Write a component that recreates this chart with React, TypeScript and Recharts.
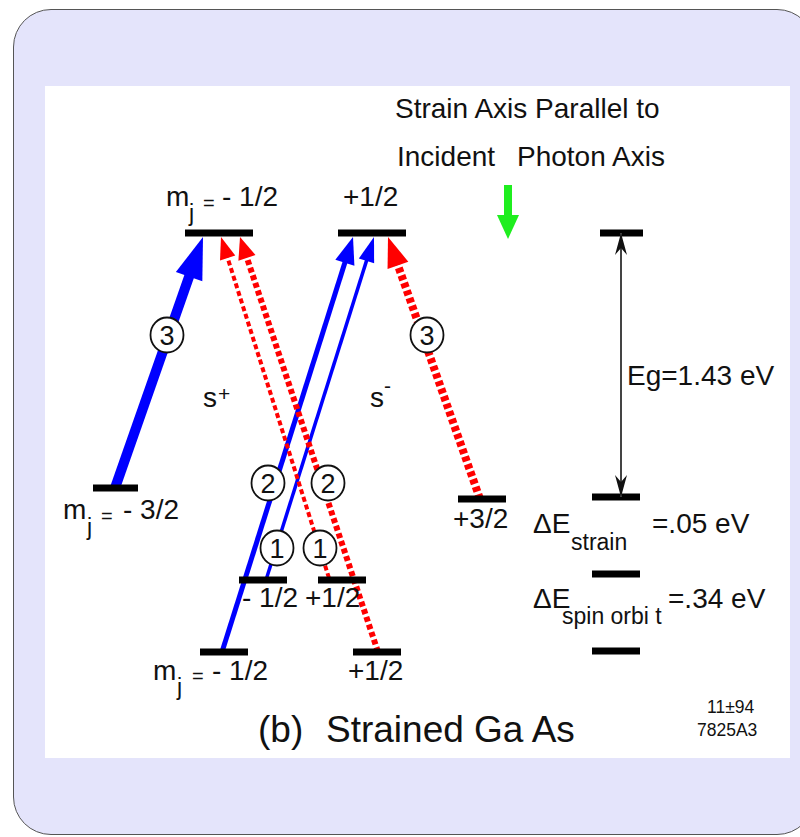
import { ComposedChart, XAxis, YAxis, Scatter, ReferenceLine, ReferenceDot } from 'recharts';

const W = 800;
const H = 837;
const FONT = '"Liberation Sans", Arial, Helvetica, sans-serif';
const INK = '#111';

// energy levels (diagram units, y grows downward)
const levelNames = ['CB -1/2', 'CB +1/2', 'CB ref', 'HH -3/2', 'HH +3/2', 'HH ref', 'LH -1/2', 'LH +1/2', 'LH ref', 'SO -1/2', 'SO +1/2', 'SO ref'];
const levelLeft = [185, 338, 600, 93, 458, 592, 239, 318, 592, 200, 353, 592];
const levelRight = [253, 406, 643, 138, 506, 640, 287, 366, 640, 248, 401, 640];
const levelY = [233, 233, 233, 488, 499, 497, 580, 580, 574, 652, 652, 651];

// optical transitions: start on a valence level, end on a conduction level
const transFromX = [115, 222, 266, 329, 378, 480];
const transFromY = [488, 652, 580, 578, 652, 499];
const transToX = [203, 353, 374, 221, 240, 388];
const transToY = [237, 237, 237, 237, 237, 237];
const transPolarity = ['+', '+', '+', '-', '-', '-'];
const transStrength = [3, 2, 1, 1, 2, 3];

// circled relative strengths on each transition
const badgeX = [167, 268, 277, 320, 328, 427];
const badgeY = [335, 483, 548, 548, 483, 335];

// gap arrow and photon axis arrow
const gapArrow = [{ x: 621, y: 497 }, { x: 621, y: 233 }];
const photonArrow = [{ x: 508, y: 185 }, { x: 508, y: 239 }];

// text: [content, x, y, kind]
const labels: [string, number, number, string][] = [
  ['Strain Axis Parallel to', 395, 118, 'main'],
  ['Incident', 397, 166, 'main'],
  ['Photon Axis', 517, 166, 'main'],
  ['m', 166, 206, 'main'],
  ['j', 189, 221, 'sub'],
  ['=', 203, 210, 'eq'],
  ['- 1/2', 222, 206, 'main'],
  ['+1/2', 343, 206, 'main'],
  ['s', 203, 407, 'main'],
  ['+', 218, 401, 'sup'],
  ['s', 370, 407, 'main'],
  ['-', 384, 393, 'sup'],
  ['Eg=1.43 eV', 627, 385, 'main'],
  ['m', 63, 519, 'main'],
  ['j', 87, 535, 'sub'],
  ['=', 101, 523, 'eq'],
  ['- 3/2', 123, 519, 'main'],
  ['+3/2', 453, 528, 'main'],
  ['\u0394E', 533, 533, 'main'],
  ['strain', 571, 550, 'sub'],
  ['=.05 eV', 652, 533, 'main'],
  ['\u0394E', 533, 608, 'main'],
  ['spin orbi t', 562, 624, 'sub'],
  ['=.34 eV', 668, 608, 'main'],
  ['- 1/2', 242, 607, 'main'],
  ['+1/2', 305, 607, 'main'],
  ['m', 153, 680, 'main'],
  ['j', 177, 695, 'sub'],
  ['=', 192, 683, 'eq'],
  ['- 1/2', 212, 680, 'main'],
  ['+1/2', 348, 680, 'main'],
  ['(b)', 258, 742, 'title'],
  ['Strained Ga As', 326, 742, 'title'],
  ['11\u00b194', 707, 713, 'tag'],
  ['7825A3', 697, 736, 'tag'],
];

const textSize: Record<string, number> = { main: 28, sub: 23, eq: 20, sup: 21, title: 37, tag: 17.5 };

const arrowStyle = {
  '+': { color: '#0000ff', width: { 3: 10, 2: 5, 1: 3.5 }, len: { 3: 42, 2: 27, 1: 25 }, half: { 3: 14, 2: 10, 1: 8 } },
  '-': { color: '#ff0000', width: { 3: 8, 2: 6, 1: 4 }, len: { 3: 30, 2: 22, 1: 22 }, half: { 3: 11, 2: 9, 1: 8 } },
} as const;

const levelData = levelNames.map((name, i) => ({ name, x: (levelLeft[i] + levelRight[i]) / 2, y: levelY[i] }));

function arrowShape(color: string, width: number, len: number, half: number, dash?: string) {
  return (p: any) => {
    const { x1, y1, x2, y2 } = p;
    const dx = x2 - x1;
    const dy = y2 - y1;
    const d = Math.hypot(dx, dy) || 1;
    const ux = dx / d;
    const uy = dy / d;
    const bx = x2 - ux * len;
    const by = y2 - uy * len;
    const nx = -uy;
    const ny = ux;
    return (
      <g>
        <line x1={x1} y1={y1} x2={bx + ux} y2={by + uy} stroke={color} strokeWidth={width} strokeDasharray={dash} />
        <polygon
          points={`${x2},${y2} ${bx + nx * half},${by + ny * half} ${bx - nx * half},${by - ny * half}`}
          fill={color}
        />
      </g>
    );
  };
}

// thin double-headed arrow with notched heads
function gapShape(p: any) {
  const { x1, y1, x2, y2 } = p;
  const head = (tx: number, ty: number, dir: number) => {
    const L = 22;
    const w = 6;
    return (
      <polygon
        points={`${tx},${ty} ${tx + w},${ty + dir * L} ${tx},${ty + dir * (L - 7)} ${tx - w},${ty + dir * L}`}
        fill="#111"
      />
    );
  };
  const dir = y2 > y1 ? 1 : -1;
  return (
    <g>
      <line x1={x1} y1={y1} x2={x2} y2={y2} stroke="#444" strokeWidth={2} />
      {head(x1, y1, dir)}
      {head(x2, y2, -dir)}
    </g>
  );
}

function badgeShape(n: number) {
  return (p: any) => (
    <g>
      <ellipse cx={p.cx} cy={p.cy} rx={16.5} ry={17.5} fill="#fff" stroke={INK} strokeWidth={1.8} />
      <text x={p.cx} y={p.cy + 9.5} textAnchor="middle" fontFamily={FONT} fontSize={27} fill={INK}>
        {n}
      </text>
    </g>
  );
}

function textShape(s: string, kind: string) {
  return (p: any) => (
    <text x={p.cx} y={p.cy} fontFamily={FONT} fontSize={textSize[kind]} fill={INK}>
      {s}
    </text>
  );
}

export default function App() {
  return (
    <div style={{ position: 'absolute', left: 0, top: 0, width: W, height: H, overflow: 'hidden' }}>
      <div
        style={{
          position: 'absolute',
          left: 13,
          top: 9,
          width: 800,
          height: 824,
          background: '#e4e4fb',
          border: '1.5px solid #555',
          borderRadius: 38,
        }}
      />
      <div style={{ position: 'absolute', left: 45, top: 86, width: 745, height: 672, background: '#fff' }} />
      <div style={{ position: 'absolute', left: 0, top: 0 }}>
        <ComposedChart width={W} height={H} data={levelData} margin={{ top: 0, right: 0, bottom: 0, left: 0 }}>
          <XAxis type="number" dataKey="x" domain={[0, W]} allowDataOverflow hide />
          <YAxis type="number" dataKey="y" domain={[0, H]} allowDataOverflow reversed hide />
          <Scatter dataKey="y" fill="none" shape={() => <g />} isAnimationActive={false} />

          {transFromX.map((fx, i) => {
            const st = arrowStyle[transPolarity[i] as '+' | '-'];
            const k = transStrength[i] as 1 | 2 | 3;
            return (
              <ReferenceLine
                key={`t${i}`}
                segment={[{ x: fx, y: transFromY[i] }, { x: transToX[i], y: transToY[i] }]}
                shape={arrowShape(st.color, st.width[k], st.len[k], st.half[k], transPolarity[i] === '-' ? '5 3' : undefined)}
              />
            );
          })}

          {levelNames.map((name, i) => (
            <ReferenceLine
              key={name}
              segment={[{ x: levelLeft[i], y: levelY[i] }, { x: levelRight[i], y: levelY[i] }]}
              stroke="#000"
              strokeWidth={7}
            />
          ))}

          <ReferenceLine segment={gapArrow} shape={gapShape} />
          <ReferenceLine segment={photonArrow} shape={arrowShape('#1fee1f', 8, 24, 11)} />

          {badgeX.map((bx, i) => (
            <ReferenceDot key={`b${i}`} x={bx} y={badgeY[i]} shape={badgeShape(transStrength[i])} />
          ))}

          {labels.map(([s, x, y, kind], i) => (
            <ReferenceDot key={`l${i}`} x={x} y={y} shape={textShape(s, kind)} />
          ))}
        </ComposedChart>
      </div>
    </div>
  );
}
